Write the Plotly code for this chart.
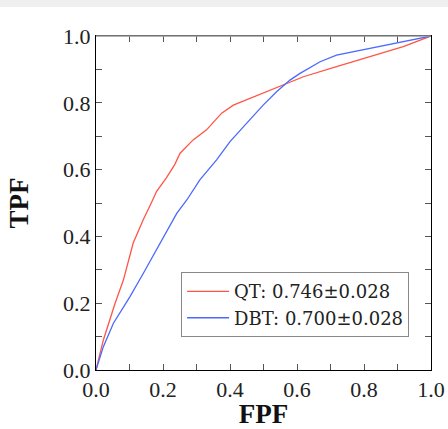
import plotly.graph_objects as go

fpf_qt = [0.0, 0.022, 0.057, 0.082, 0.111, 0.141, 0.165, 0.181, 0.21, 0.235, 0.251, 0.29, 0.33, 0.36, 0.375, 0.41, 0.46, 0.51, 0.559, 0.619, 0.718, 0.818, 0.917, 1.0]
tpf_qt = [0.0, 0.09, 0.20, 0.27, 0.38, 0.45, 0.50, 0.535, 0.575, 0.615, 0.649, 0.689, 0.719, 0.754, 0.769, 0.793, 0.813, 0.833, 0.855, 0.878, 0.908, 0.938, 0.968, 1.0]

fpf_dbt = [0.0, 0.022, 0.052, 0.101, 0.141, 0.191, 0.241, 0.271, 0.31, 0.36, 0.40, 0.45, 0.499, 0.539, 0.579, 0.609, 0.669, 0.718, 0.818, 0.898, 1.0]
tpf_dbt = [0.0, 0.07, 0.14, 0.219, 0.289, 0.379, 0.469, 0.509, 0.569, 0.629, 0.684, 0.739, 0.793, 0.833, 0.868, 0.888, 0.923, 0.943, 0.963, 0.978, 1.0]

names = ["QT: 0.746\u00b10.028", "DBT: 0.700\u00b10.028"]
tick_vals = [0.0, 0.2, 0.4, 0.6, 0.8, 1.0]
tick_text = ["0.0", "0.2", "0.4", "0.6", "0.8", "1.0"]

FONT = "Liberation Serif, serif"

fig = go.Figure()
fig.add_trace(go.Scatter(x=fpf_qt, y=tpf_qt, mode="lines", name=names[0],
                         line=dict(color="rgb(255,85,70)", width=1.3)))
fig.add_trace(go.Scatter(x=fpf_dbt, y=tpf_dbt, mode="lines", name=names[1],
                         line=dict(color="rgb(75,105,255)", width=1.3)))

axis_common = dict(
    range=[0, 1], tickvals=tick_vals, ticktext=tick_text,
    ticks="inside", ticklen=6, tickcolor="#555", tickwidth=1,
    minor=dict(dtick=0.1, ticks="inside", ticklen=6, tickcolor="#555", tickwidth=1),
    showline=True, linecolor="black", linewidth=1, mirror="ticks",
    showgrid=False, zeroline=False, automargin=False,
    tickfont=dict(family=FONT, size=22, color="#222"),
    fixedrange=True,
)

fig.update_xaxes(**axis_common,
                 title=dict(text="<b>FPF</b>", font=dict(family=FONT, size=27, color="#111"), standoff=8))
fig.update_yaxes(**axis_common,
                 title=dict(text="<b>TPF</b>", font=dict(family=FONT, size=27, color="#111"), standoff=26))

fig.update_layout(
    width=448, height=429,
    margin=dict(l=96, r=17, t=36, b=59, autoexpand=False),
    paper_bgcolor="rgba(0,0,0,0)", plot_bgcolor="white",
    font=dict(family=FONT, size=21, color="#222"),
    showlegend=True,
    legend=dict(x=0.254, y=0.293, xanchor="left", yanchor="top",
                bordercolor="#888", borderwidth=1, bgcolor="white",
                font=dict(family="DejaVu Serif, serif", size=18, color="#222"),
                tracegroupgap=0, itemwidth=42),
    shapes=[
        dict(type="line", xref="paper", yref="paper", x0=0, x1=1, y0=1, y1=1,
             line=dict(color="#999", width=1.5), layer="above"),
    ],
)

fig.write_html(
    "out.html",
    config={"displayModeBar": False, "staticPlot": True},
    post_script=(
        "document.body.style.margin='0';"
        "document.body.style.overflow='hidden';"
        "document.body.style.background='linear-gradient(to bottom, #efefef 0px, #efefef 7px, #ffffff 7px, #ffffff 100%)';"
    ),
)
